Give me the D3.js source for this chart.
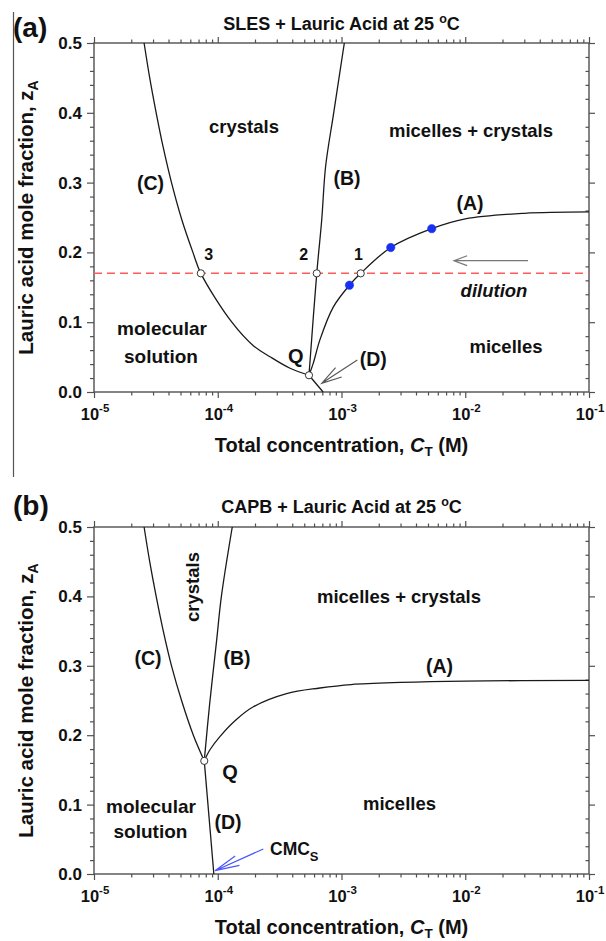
<!DOCTYPE html>
<html>
<head>
<meta charset="utf-8">
<script src="https://cdn.jsdelivr.net/npm/d3@7"></script>
<style>
  html, body { margin: 0; padding: 0; background: #fff; }
  svg { display: block; }
  text { font-family: "Liberation Sans", Arial, Helvetica, sans-serif; font-weight: bold; fill: #111; }
</style>
</head>
<body>
<svg id="fig" width="606" height="941"></svg>
<script>
// ---- Phase boundaries: [total concentration C_T (M), lauric acid mole fraction z_A] ----

// (a) SLES + lauric acid at 25 °C
const slesBoundaryA = [[5.46e-4, 0.024], [5.91e-4, 0.041], [6.7e-4, 0.075], [8.6e-4, 0.122],
  [1.16e-3, 0.153], [1.43e-3, 0.17], [2.5e-3, 0.207], [5.36e-3, 0.234], [1.0e-2, 0.248],
  [3.0e-2, 0.256], [1.0e-1, 0.258]];
const slesBoundaryB = [[5.46e-4, 0.024], [6.31e-4, 0.17], [6.92e-4, 0.2465], [7.44e-4, 0.323],
  [8.65e-4, 0.40], [1.054e-3, 0.5]];
const slesBoundaryC = [[2.54e-5, 0.5], [2.82e-5, 0.45], [3.18e-5, 0.4], [3.63e-5, 0.35],
  [4.23e-5, 0.3], [5.14e-5, 0.246], [6.3e-5, 0.2], [7.3e-5, 0.17], [1.3e-4, 0.1],
  [1.95e-4, 0.066], [2.64e-4, 0.0506], [3.84e-4, 0.034], [5.46e-4, 0.024]];
const slesBoundaryD = [[5.46e-4, 0.024], [7.1e-4, 0.0]];
const slesMeasured = [[1.16e-3, 0.153], [2.5e-3, 0.207], [5.36e-3, 0.234]];
const slesCrossings = [[7.3e-5, 0.17], [6.31e-4, 0.17], [1.43e-3, 0.17], [5.46e-4, 0.024]];
const slesDilutionLevel = 0.17;

// (b) CAPB + lauric acid at 25 °C
const capbBoundaryA = [[7.78e-5, 0.163], [8.65e-5, 0.179], [1.04e-4, 0.198], [1.4e-4, 0.222],
  [1.94e-4, 0.241], [3.6e-4, 0.26], [6.7e-4, 0.268], [1.2e-3, 0.273], [3.0e-3, 0.276],
  [1.0e-2, 0.278], [1.0e-1, 0.279]];
const capbBoundaryB = [[7.78e-5, 0.163], [8.6e-5, 0.245], [9.8e-5, 0.337], [1.07e-4, 0.4],
  [1.31e-4, 0.5]];
const capbBoundaryC = [[2.54e-5, 0.5], [2.82e-5, 0.45], [3.18e-5, 0.4], [3.63e-5, 0.35],
  [4.23e-5, 0.3], [5.1e-5, 0.25], [6.35e-5, 0.2], [7.78e-5, 0.163]];
const capbBoundaryD = [[7.78e-5, 0.163], [9.3e-5, 0.0]];
const capbCrossings = [[7.78e-5, 0.163]];

// ---- Axes ----
const xTickExponents = [-5, -4, -3, -2, -1];
const yTickValues = [0.0, 0.1, 0.2, 0.3, 0.4, 0.5];
const yMinorStep = 0.02;

// ---- Layout ----
const plotLeft = 94, plotWidth = 495;
const FONT_LABEL = 18.5;
const AXIS_COLOR = "#505050";

const svg = d3.select("#fig");

// thin rule along the left edge of the upper panel
svg.append("line")
  .attr("x1", 13.5).attr("x2", 13.5).attr("y1", 12).attr("y2", 477)
  .attr("stroke", "#555").attr("stroke-width", 1.2);

// text with optional sub/superscript parts: parts = [{t, off, size, italic}]
function addText(g, s) {
  const t = g.append("text")
    .attr("x", s.x).attr("y", s.y)
    .attr("text-anchor", s.anchor || "middle")
    .style("font-size", (s.size || FONT_LABEL) + "px");
  if (s.italic) t.style("font-style", "italic");
  if (s.rotate) t.attr("transform", `rotate(${s.rotate},${s.x},${s.y})`);
  const parts = typeof s.text === "string" ? [{ t: s.text }] : s.text;
  let cur = 0;
  parts.forEach(p => {
    const off = p.off || 0;
    const ts = t.append("tspan").text(p.t).attr("dy", off - cur);
    if (p.size) ts.style("font-size", p.size + "px");
    if (p.italic) ts.style("font-style", "italic");
    cur = off;
  });
  return t;
}

// straight arrow with an open V head at (x2,y2)
function addArrow(g, x1, y1, x2, y2, len, spread, color, width) {
  const a = Math.atan2(y1 - y2, x1 - x2);
  const h1 = [x2 + len * Math.cos(a - spread), y2 + len * Math.sin(a - spread)];
  const h2 = [x2 + len * Math.cos(a + spread), y2 + len * Math.sin(a + spread)];
  g.append("path")
    .attr("d", `M${x1},${y1}L${x2},${y2}M${h1[0]},${h1[1]}L${x2},${y2}L${h2[0]},${h2[1]}`)
    .attr("fill", "none").attr("stroke", color).attr("stroke-width", width);
}

function drawPanel(p) {
  const g = svg.append("g").attr("transform", `translate(${plotLeft},${p.top})`);
  const x = d3.scaleLog().domain([1e-5, 1e-1]).range([0, plotWidth]);
  const y = d3.scaleLinear().domain([0, 0.5]).range([p.height, 0]);

  const majorX = xTickExponents.map(e => Math.pow(10, e));
  const minorX = [];
  xTickExponents.slice(0, -1).forEach(e => {
    for (let k = 2; k <= 9; k++) minorX.push(k * Math.pow(10, e));
  });
  const minorY = d3.range(0, 0.5 + 1e-9, yMinorStep)
    .filter(v => !yTickValues.some(t => Math.abs(t - v) < 1e-6));

  const styleAxis = sel => {
    sel.selectAll("path").remove();
    sel.selectAll("line").attr("stroke", AXIS_COLOR).attr("stroke-width", 1.2);
    sel.selectAll("text").remove();
  };

  // tick marks on all four sides
  g.append("g").attr("transform", `translate(0,${p.height})`)
    .call(d3.axisBottom(x).tickValues(majorX).tickSize(6).tickSizeOuter(0)).call(styleAxis);
  g.append("g").attr("transform", `translate(0,${p.height})`)
    .call(d3.axisBottom(x).tickValues(minorX).tickSize(3.5).tickSizeOuter(0)).call(styleAxis);
  g.append("g")
    .call(d3.axisTop(x).tickValues(majorX).tickSize(6).tickSizeOuter(0)).call(styleAxis);
  g.append("g")
    .call(d3.axisTop(x).tickValues(minorX).tickSize(3.5).tickSizeOuter(0)).call(styleAxis);
  g.append("g")
    .call(d3.axisLeft(y).tickValues(yTickValues).tickSize(7).tickSizeOuter(0)).call(styleAxis);
  g.append("g")
    .call(d3.axisLeft(y).tickValues(minorY).tickSize(4).tickSizeOuter(0)).call(styleAxis);
  g.append("g").attr("transform", `translate(${plotWidth},0)`)
    .call(d3.axisRight(y).tickValues(yTickValues).tickSize(6).tickSizeOuter(0)).call(styleAxis);
  g.append("g").attr("transform", `translate(${plotWidth},0)`)
    .call(d3.axisRight(y).tickValues(minorY).tickSize(-3.5).tickSizeOuter(0)).call(styleAxis);

  // frame
  g.append("rect").attr("x", 0).attr("y", 0).attr("width", plotWidth).attr("height", p.height)
    .attr("fill", "none").attr("stroke", AXIS_COLOR).attr("stroke-width", 1.4);

  // tick labels
  yTickValues.forEach(v => addText(g, {
    x: -12, y: y(v) + 6, anchor: "end", size: 17, text: v.toFixed(1)
  }));
  majorX.forEach((v, i) => addText(g, {
    x: x(v) + 1, y: p.height + 28, size: 16.5,
    text: [{ t: "10" }, { t: String(xTickExponents[i]), off: -8, size: 11.5 }]
  }));

  // axis titles
  addText(g, {
    x: plotWidth / 2, y: p.height + 59.5, size: 20,
    text: [{ t: "Total concentration, " }, { t: "C", italic: true },
           { t: "T", off: 4, size: 13.5 }, { t: " (M)", off: 0 }]
  });
  addText(g, {
    x: 33 - plotLeft, y: p.height / 2, size: 20.5, rotate: -90,
    text: [{ t: "Lauric acid mole fraction, z" }, { t: "A", off: 5, size: 14 }]
  });

  // panel title and letter
  addText(g, {
    x: plotWidth / 2, y: p.titleY, size: 18,
    text: [{ t: p.title + " at 25 " }, { t: "o", off: -7, size: 12.5 }, { t: "C", off: 0 }]
  });
  addText(g, { x: 13 - plotLeft, y: p.letterY, anchor: "start", size: 28, text: p.letter });

  // boundaries
  const line = d3.line().x(d => x(d[0])).y(d => y(d[1])).curve(d3.curveCatmullRom.alpha(0.5));

  if (p.dilution !== undefined) {
    g.append("line")
      .attr("x1", x(1e-5)).attr("x2", x(1e-1))
      .attr("y1", y(p.dilution)).attr("y2", y(p.dilution))
      .attr("stroke", "#ff5a5a").attr("stroke-width", 1.5).attr("stroke-dasharray", "8,5");
  }

  p.curves.forEach(c => {
    g.append("path").datum(c).attr("d", line)
      .attr("fill", "none").attr("stroke", "#1a1a1a").attr("stroke-width", 1.3);
  });

  (p.measured || []).forEach(d => {
    g.append("circle").attr("cx", x(d[0])).attr("cy", y(d[1])).attr("r", 4.2)
      .attr("fill", "#1830f0").attr("stroke", "#1830f0").attr("stroke-width", 0.5);
  });
  p.crossings.forEach(d => {
    g.append("circle").attr("cx", x(d[0])).attr("cy", y(d[1])).attr("r", 3.6)
      .attr("fill", "#fff").attr("stroke", "#333").attr("stroke-width", 1);
  });

  p.arrows.forEach(a => addArrow(g, a[0], a[1], a[2], a[3], a[4], a[5], a[6], a[7]));
  p.labels.forEach(l => addText(g, l));
}

drawPanel({
  top: 43, height: 349, titleY: -13, letterY: -6,
  title: "SLES + Lauric Acid", letter: "(a)",
  curves: [slesBoundaryA, slesBoundaryB, slesBoundaryC, slesBoundaryD],
  measured: slesMeasured, crossings: slesCrossings, dilution: slesDilutionLevel,
  arrows: [
    [434, 217.7, 360, 217.7, 14, 0.36, "#777", 1.2],
    [263.3, 317, 227.7, 340.3, 21, 0.27, "#555", 1.1]
  ],
  labels: [
    { x: 150, y: 90, text: "crystals" },
    { x: 377, y: 94, text: "micelles + crystals" },
    { x: 56.5, y: 147, size: 19.5, text: "(C)" },
    { x: 253, y: 142, size: 19.5, text: "(B)" },
    { x: 376, y: 167, size: 19.5, text: "(A)" },
    { x: 114.7, y: 217, size: 16, text: "3" },
    { x: 209.7, y: 217, size: 16, text: "2" },
    { x: 264.5, y: 217, size: 16, text: "1" },
    { x: 201.8, y: 320.3, size: 20, text: "Q" },
    { x: 279.3, y: 323, size: 19.5, text: "(D)" },
    { x: 68, y: 292, size: 19, text: "molecular" },
    { x: 67, y: 320, size: 19, text: "solution" },
    { x: 412, y: 310, text: "micelles" },
    { x: 400, y: 254, italic: true, text: "dilution" }
  ]
});

drawPanel({
  top: 527, height: 347, titleY: -14, letterY: -12,
  title: "CAPB + Lauric Acid", letter: "(b)",
  curves: [capbBoundaryA, capbBoundaryB, capbBoundaryC, capbBoundaryD],
  crossings: capbCrossings,
  arrows: [
    [169.3, 322, 121, 343.7, 25, 0.21, "#4a55ff", 1.2]
  ],
  labels: [
    { x: 105, y: 60, rotate: -90, text: "crystals" },
    { x: 54, y: 138, size: 19.5, text: "(C)" },
    { x: 143, y: 138, size: 19.5, text: "(B)" },
    { x: 305, y: 76, text: "micelles + crystals" },
    { x: 345.5, y: 146, size: 19.5, text: "(A)" },
    { x: 136, y: 252, size: 20, text: "Q" },
    { x: 57, y: 286, size: 19, text: "molecular" },
    { x: 56.5, y: 311, size: 19, text: "solution" },
    { x: 134, y: 302, size: 19.5, text: "(D)" },
    { x: 305.5, y: 283, text: "micelles" },
    { x: 176, y: 328, anchor: "start", size: 17.5, text: [{ t: "CMC" }, { t: "S", off: 6, size: 13 }] }
  ]
});
</script>
</body>
</html>
